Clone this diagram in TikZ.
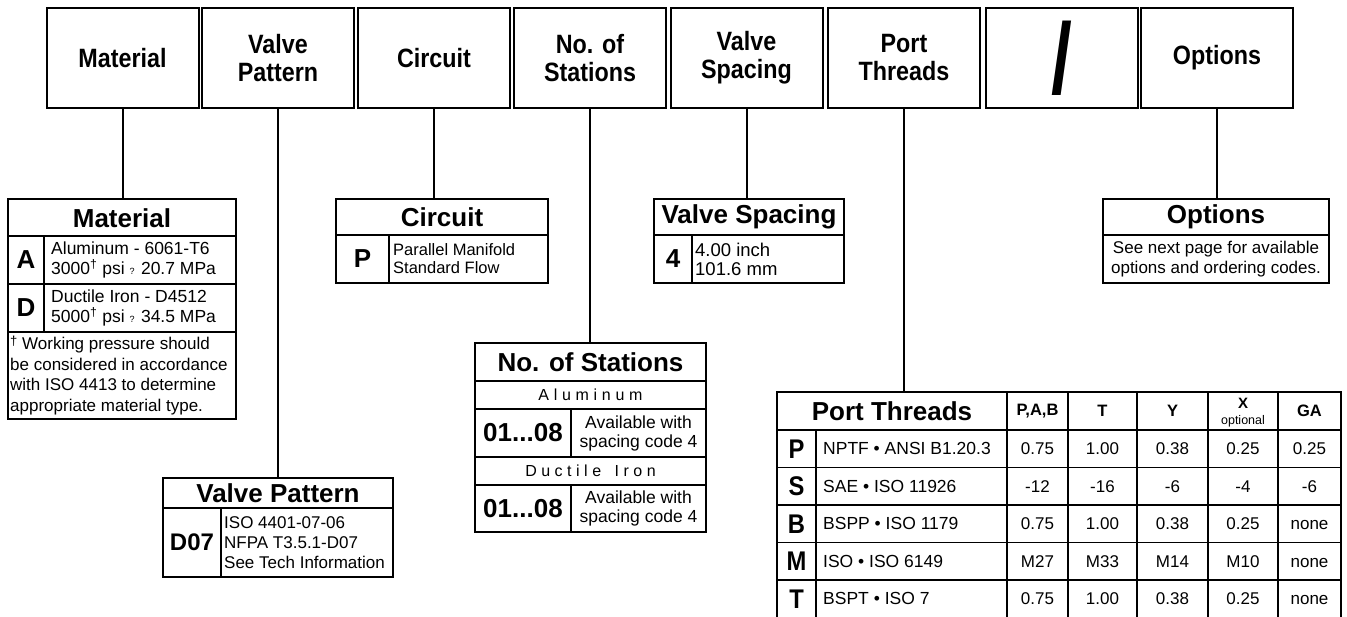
\documentclass[tikz,border=0pt]{standalone}
\usepackage{fontspec}
\setmainfont{Liberation Sans}
\newfontfamily\narrow[FakeStretch=0.88]{Liberation Sans}
\newfontfamily\slim[FakeStretch=0.75]{Liberation Sans}
\newcommand\fsz[2]{\fontsize{#1pt}{#2pt}\selectfont}
\newcommand\qm{{\fsz{9}{9}?}}
\tikzset{
 topbox/.style={draw, line width=2pt, minimum width=152pt, minimum height=100pt, inner sep=0pt, align=center, font=\narrow\bfseries\fsz{26.5}{28}},
 frame/.style={draw, line width=2.4pt, inner sep=0pt},
 conn/.style={line width=2pt},
 hline/.style={line width=2.4pt},
 sepl/.style={line width=1.3pt},
 hdr/.style={font=\bfseries\fsz{26}{28}, inner sep=0pt},
 code/.style={font=\bfseries\fsz{26}{28}, inner sep=0pt},
 txt/.style={font=\fsz{17.5}{19.5}, align=left, inner sep=0pt, anchor=west},
 ctxt/.style={font=\fsz{17}{18.5}, align=center, inner sep=0pt},
 cell/.style={font=\fsz{17}{19}, inner sep=0pt},
 vcell/.style={cell, text height=12.3pt, text depth=0pt},
 chdr/.style={font=\bfseries\fsz{16.5}{18}, inner sep=0pt},
}
\begin{document}
\begin{tikzpicture}[x=1pt,y=-1pt]
\useasboundingbox (0,0) rectangle (1347,617);
\fill[white] (0,0) rectangle (1347,617);
% top row
\node[topbox] (tMat) at (122.5,58) {Material};
\node[topbox] (tVP) at (278,58) {Valve\\Pattern};
\node[topbox] (tCir) at (434,58) {Circuit};
\node[topbox] (tSta) at (590,58) {No. of\\Stations};
\node[topbox] (tSpa) at (746.5,58) {Valve\\Spacing};
\node[topbox] (tPor) at (904,58) {Port\\Threads};
\node[topbox, font=\slim\bfseries\fsz{100}{100}] (tSl) at (1061.5,58) {\raisebox{2pt}{/}};
\node[topbox] (tOpt) at (1217,58) {Options};
% Material
\node[frame, minimum width=228pt, minimum height=220pt] (mat) at (122,309) {};
\draw[hline] (8,236) -- (236,236);
\draw[sepl] (8,284) -- (236,284) (8,332) -- (236,332) (44,236) -- (44,332);
\node[hdr] (matH) at (122,218) {Material};
\node[code] (matA) at (26,260) {A};
\node[code] (matD) at (26,308) {D};
\node[txt] (matAt) at (51,260) {Aluminum - 6061-T6\\3000\textsuperscript{†} psi \qm{} 20.7 MPa};
\node[txt] (matDt) at (51,308) {Ductile Iron - D4512\\5000\textsuperscript{†} psi \qm{} 34.5 MPa};
\node[txt, font=\fsz{17}{20.5}] (matN) at (10,375.5) {\raisebox{4pt}{\fsz{13}{13}†} Working pressure should\\be considered in accordance\\with ISO 4413 to determine\\appropriate material type.};
% Circuit
\node[frame, minimum width=212pt, minimum height=84pt] (cir) at (442,241) {};
\draw[hline] (336,235) -- (548,235);
\draw[sepl] (389,235) -- (389,283);
\node[hdr] (cirH) at (442,217) {Circuit};
\node[code] (cirP) at (362.5,259) {P};
\node[txt, font=\fsz{16.5}{18}] (cirT) at (393,259) {Parallel Manifold\\Standard Flow};
% Valve Spacing
\node[frame, minimum width=190pt, minimum height=84pt] (spa) at (749,241) {};
\draw[hline] (654,235) -- (844,235);
\draw[sepl] (692,235) -- (692,283);
\node[hdr] (spaH) at (749,217) {Valve Spacing};
\node[code] (spa4) at (673,259) {4};
\node[txt, font=\fsz{18.5}{19}] (spaT) at (695,259) {4.00 inch\\101.6 mm};
% Options
\node[frame, minimum width=226pt, minimum height=84pt] (opt) at (1216,241) {};
\draw[hline] (1103,235) -- (1329,235);
\node[hdr] (optH) at (1216,217) {Options};
\node[ctxt, font=\fsz{17}{19.5}] (optT) at (1216,259) {See next page for available\\options and ordering codes.};
% No. of Stations
\node[frame, minimum width=231pt, minimum height=189pt] (sta) at (590.5,437.5) {};
\draw[hline] (475,381) -- (706,381);
\draw[sepl] (475,409) -- (706,409) (475,457) -- (706,457) (475,485) -- (706,485);
\draw[sepl] (571,409) -- (571,457) (571,485) -- (571,532);
\node[hdr] (staH) at (590.5,362) {No. of Stations};
\node[cell, font=\fsz{16}{18}] (staAl) at (590.5,395) {A\kern4.7pt l\kern4.7pt u\kern4.7pt m\kern4.7pt i\kern4.7pt n\kern4.7pt u\kern4.7pt m};
\node[cell, font=\fsz{16}{18}] (staDu) at (590.5,471) {D\kern4.5pt u\kern4.5pt c\kern4.5pt t\kern4.5pt i\kern4.5pt l\kern4.5pt e\kern4.5pt\ \kern4.5pt I\kern4.5pt r\kern4.5pt o\kern4.5pt n};
\node[code] (staC1) at (523,433) {01...08};
\node[code] (staC2) at (523,508.5) {01...08};
\node[ctxt, font=\fsz{17.5}{19}] (staT1) at (638.5,433) {Available with\\spacing code 4};
\node[ctxt, font=\fsz{17.5}{19}] (staT2) at (638.5,508.5) {Available with\\spacing code 4};
% Valve Pattern
\node[frame, minimum width=230pt, minimum height=99pt] (vp) at (278,527.5) {};
\draw[hline] (163,508) -- (393,508);
\draw[sepl] (221,508) -- (221,577);
\node[hdr] (vpH) at (278,493) {Valve Pattern};
\node[code, font=\bfseries\fsz{24}{26}] (vpC) at (192,542.5) {D07};
\node[txt, font=\fsz{17}{20}] (vpT) at (224,542.5) {ISO 4401-07-06\\NFPA T3.5.1-D07\\See Tech Information};
% Port Threads table
\node[frame, minimum width=564pt, minimum height=228pt] (por) at (1059,506) {};
\draw[sepl] (777,430) -- (1341,430) (777,467.5) -- (1341,467.5) (777,505) -- (1341,505) (777,542.5) -- (1341,542.5) (777,580) -- (1341,580);
\draw[sepl] (816,430) -- (816,620);
\foreach \xx in {1007,1068,1137,1208,1278} \draw[sepl] (\xx,392) -- (\xx,620);
\node[hdr] (porH) at (892,411) {Port Threads};
\node[chdr] (hPAB) at (1037.5,411) {P,A,B};
\node[chdr] (hT) at (1102.5,411) {T};
\node[chdr] (hY) at (1172.5,411) {Y};
\node[chdr, font=\bfseries\fsz{15}{16}] (hX) at (1243,403) {X};
\node[cell, font=\fsz{12.5}{13}] (hXo) at (1243,421) {optional};
\node[chdr] (hGA) at (1309.5,411) {GA};
\foreach \yy/\L/\d/\a/\b/\c/\e/\g in {
 448.75/P/NPTF • ANSI B1.20.3/0.75/1.00/0.38/0.25/0.25,
 486.25/S/SAE • ISO 11926/-12/-16/-6/-4/-6,
 523.75/B/BSPP • ISO 1179/0.75/1.00/0.38/0.25/none,
 561.25/M/ISO • ISO 6149/M27/M33/M14/M10/none,
 598.75/T/BSPT • ISO 7/0.75/1.00/0.38/0.25/none}{
 \node[code, font=\narrow\bfseries\fsz{27}{28}] (r\L) at (796.5,\yy) {\L};
 \node[txt, font=\fsz{17.5}{18}] (d\L) at (823,\yy) {\d};
 \node[vcell] (a\L) at (1037.5,\yy) {\a};
 \node[vcell] (b\L) at (1102.5,\yy) {\b};
 \node[vcell] (c\L) at (1172.5,\yy) {\c};
 \node[vcell] (e\L) at (1243,\yy) {\e};
 \node[vcell] (g\L) at (1309.5,\yy) {\g};
}
% connectors
\draw[conn] (tMat.south) -- (tMat.south |- mat.north);
\draw[conn] (tVP.south) -- (tVP.south |- vp.north);
\draw[conn] (tCir.south) -- (tCir.south |- cir.north);
\draw[conn] (tSta.south) -- (tSta.south |- sta.north);
\draw[conn] (tSpa.south) -- (tSpa.south |- spa.north);
\draw[conn] (tPor.south) -- (tPor.south |- por.north);
\draw[conn] (tOpt.south) -- (tOpt.south |- opt.north);
\end{tikzpicture}
\end{document}
